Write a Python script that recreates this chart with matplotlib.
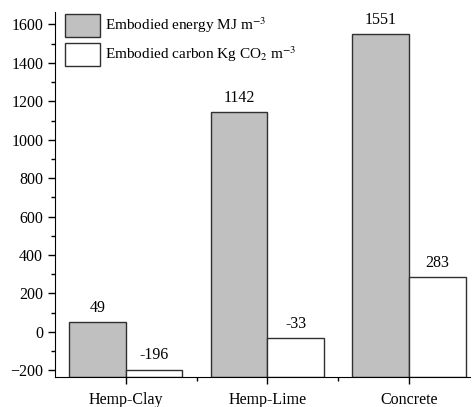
import matplotlib
matplotlib.use("Agg")
import matplotlib.pyplot as plt
import numpy as np
from matplotlib.ticker import MultipleLocator, FixedLocator

categories = ["Hemp-Clay", "Hemp-Lime", "Concrete"]
energy = [49, 1142, 1551]
carbon = [-196, -33, 283]

plt.rcParams["font.family"] = ["Liberation Serif", "DejaVu Serif"]
plt.rcParams["mathtext.fontset"] = "stix"

ymin, ymax = -235, 1665

fig = plt.figure(figsize=(4.73, 4.07), dpi=100)
ax = fig.add_axes([55 / 473, 1 - 377 / 407, (470 - 55) / 473, (377 - 12) / 407])

x = np.arange(len(categories))
w = 0.4
ax.bar(x - w / 2, np.array(energy) - ymin, w, bottom=ymin, color="#c0c0c0",
       edgecolor="#303030", linewidth=1, label="Embodied energy MJ m$^{-3}$")
ax.bar(x + w / 2, np.array(carbon) - ymin, w, bottom=ymin, color="white",
       edgecolor="#303030", linewidth=1, label="Embodied carbon Kg CO$_2$ m$^{-3}$")

# etichette sopra le barre
for xi, v in zip(x - w / 2, energy):
    ax.text(xi, v + 32, str(v), ha="center", va="bottom", fontsize=11.5)
for xi, v in zip(x + w / 2, carbon):
    ax.text(xi, v + 32, str(v), ha="center", va="bottom", fontsize=11.5)

ax.set_ylim(ymin, ymax)
ax.set_xlim(-0.5, 2.43)
ax.set_xticks(x)
ax.set_xticklabels(categories, fontsize=11.5)
ax.xaxis.set_minor_locator(FixedLocator([0.5, 1.5]))
ax.yaxis.set_major_locator(MultipleLocator(200))
ax.yaxis.set_minor_locator(MultipleLocator(100))
ax.tick_params(axis="y", labelsize=11.5)
ax.tick_params(axis="x", pad=6)
ax.tick_params(which="major", length=5, width=1, direction="out")
ax.tick_params(which="minor", length=3, width=1, direction="out")

for s in ["top", "right"]:
    ax.spines[s].set_visible(False)

ax.legend(loc="upper left", bbox_to_anchor=(0.024, 0.995), frameon=False, fontsize=11,
          handlelength=2.3, handleheight=2.0, labelspacing=0.35, borderaxespad=0.0,
          handletextpad=0.3, borderpad=0.0)

fig.savefig("out.png", dpi=100)
